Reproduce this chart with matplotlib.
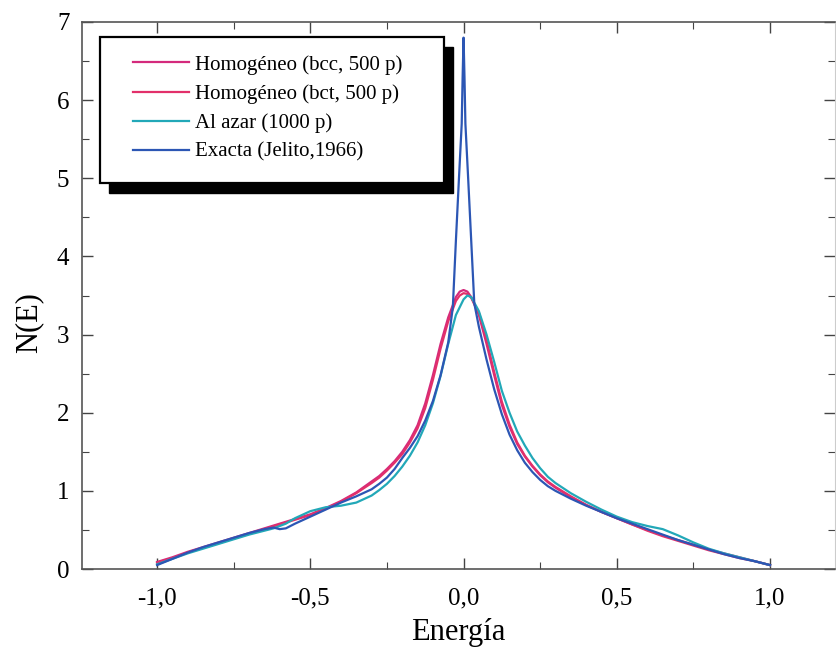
import matplotlib
matplotlib.use("Agg")
import matplotlib.pyplot as plt
from matplotlib.patches import Rectangle
from matplotlib.ticker import MultipleLocator, FuncFormatter

# Exact DOS (Jelito, 1966): broad curve plus log spike at E = 0
E_exact = [-1.0, -0.95, -0.9, -0.85, -0.8, -0.75, -0.7, -0.65, -0.62, -0.6, -0.58,
           -0.55, -0.5, -0.45, -0.4, -0.35, -0.3, -0.275, -0.25, -0.225, -0.2,
           -0.175, -0.15, -0.125, -0.1, -0.075, -0.05, -0.035, -0.025, -0.015,
           -0.006, -0.003, 0.0, 0.003, 0.006, 0.015, 0.025, 0.035, 0.05, 0.075,
           0.1, 0.125, 0.15, 0.175, 0.2, 0.225, 0.25, 0.275, 0.3, 0.35, 0.4,
           0.45, 0.5, 0.55, 0.6, 0.65, 0.7, 0.75, 0.8, 0.85, 0.9, 0.95, 1.0]
N_exact = [0.05, 0.13, 0.21, 0.28, 0.34, 0.40, 0.46, 0.51, 0.53, 0.51, 0.52,
           0.58, 0.67, 0.76, 0.85, 0.93, 1.02, 1.09, 1.17, 1.28, 1.42,
           1.55, 1.70, 1.90, 2.15, 2.48, 2.90, 3.35, 4.20, 5.00,
           5.70, 6.30, 6.80, 6.30, 5.70, 5.00, 4.20, 3.40, 3.10, 2.68,
           2.30, 1.98, 1.72, 1.52, 1.36, 1.24, 1.14, 1.06, 1.00, 0.90, 0.81,
           0.73, 0.65, 0.58, 0.51, 0.44, 0.37, 0.31, 0.25, 0.19, 0.14, 0.10, 0.05]

E_hom = [-1.0, -0.95, -0.9, -0.85, -0.8, -0.75, -0.7, -0.65, -0.6, -0.55, -0.5,
         -0.45, -0.4, -0.35, -0.3, -0.275, -0.25, -0.225, -0.2, -0.175, -0.15,
         -0.125, -0.1, -0.075, -0.05, -0.025, -0.0125, 0.0, 0.0125, 0.025, 0.05,
         0.075, 0.1, 0.125, 0.15, 0.175, 0.2, 0.225, 0.25, 0.275, 0.3, 0.35,
         0.4, 0.45, 0.5, 0.55, 0.6, 0.65, 0.7, 0.75, 0.8, 0.85, 0.9, 0.95, 1.0]
N_bcc = [0.09, 0.15, 0.22, 0.28, 0.34, 0.40, 0.46, 0.52, 0.58, 0.64, 0.70,
         0.78, 0.87, 0.98, 1.12, 1.19, 1.28, 1.38, 1.50, 1.65, 1.84,
         2.12, 2.48, 2.88, 3.22, 3.48, 3.55, 3.57, 3.55, 3.48, 3.25,
         2.88, 2.48, 2.10, 1.82, 1.60, 1.44, 1.31, 1.20, 1.11, 1.04, 0.92,
         0.82, 0.73, 0.65, 0.57, 0.50, 0.43, 0.37, 0.31, 0.25, 0.20, 0.15, 0.10, 0.05]
N_bct = [0.08, 0.14, 0.21, 0.27, 0.33, 0.39, 0.45, 0.51, 0.57, 0.63, 0.69,
         0.77, 0.86, 0.97, 1.10, 1.17, 1.26, 1.36, 1.47, 1.62, 1.80,
         2.06, 2.42, 2.82, 3.17, 3.43, 3.50, 3.53, 3.52, 3.47, 3.28,
         2.93, 2.52, 2.14, 1.85, 1.62, 1.45, 1.32, 1.21, 1.12, 1.05, 0.93,
         0.82, 0.73, 0.65, 0.57, 0.49, 0.42, 0.36, 0.30, 0.24, 0.19, 0.14, 0.10, 0.05]

E_azar = [-1.0, -0.95, -0.9, -0.85, -0.8, -0.75, -0.7, -0.65, -0.62, -0.58, -0.55,
          -0.5, -0.45, -0.4, -0.35, -0.3, -0.275, -0.25, -0.225, -0.2, -0.175,
          -0.15, -0.125, -0.1, -0.075, -0.05, -0.025, 0.0, 0.0125, 0.025, 0.05,
          0.075, 0.1, 0.125, 0.15, 0.175, 0.2, 0.225, 0.25, 0.275, 0.3, 0.35,
          0.4, 0.45, 0.5, 0.55, 0.6, 0.65, 0.7, 0.75, 0.8, 0.85, 0.9, 0.95, 1.0]
N_azar = [0.06, 0.13, 0.20, 0.26, 0.32, 0.38, 0.44, 0.49, 0.52, 0.58, 0.65,
          0.74, 0.79, 0.81, 0.85, 0.94, 1.01, 1.09, 1.19, 1.31, 1.45,
          1.62, 1.84, 2.12, 2.47, 2.88, 3.25, 3.45, 3.50, 3.48, 3.30,
          3.00, 2.65, 2.28, 2.00, 1.76, 1.58, 1.42, 1.29, 1.18, 1.10, 0.97,
          0.86, 0.76, 0.67, 0.60, 0.55, 0.51, 0.43, 0.34, 0.26, 0.20, 0.15, 0.10, 0.05]

labels = ["Homogéneo (bcc, 500 p)", "Homogéneo (bct, 500 p)",
          "Al azar (1000 p)", "Exacta (Jelito,1966)"]
colors = ["#d42a7c", "#e2306a", "#22a8b8", "#2c56b4"]

plt.rcParams["font.family"] = ["Liberation Serif", "DejaVu Serif"]

fig = plt.figure(figsize=(8.37, 6.51), dpi=100)
ax = fig.add_axes([82 / 837, 82 / 651, 753 / 837, 547 / 651])

lines = []
lines += ax.plot(E_hom, N_bcc, color=colors[0], lw=1.6, solid_joinstyle="round")
lines += ax.plot(E_hom, N_bct, color=colors[1], lw=1.6, solid_joinstyle="round")
lines += ax.plot(E_azar, N_azar, color=colors[2], lw=1.6, solid_joinstyle="round")
lines += ax.plot(E_exact, N_exact, color=colors[3], lw=1.6, solid_joinstyle="round")

ax.set_xlim(-1.245, 1.212)
ax.set_ylim(0, 7)
ax.xaxis.set_major_locator(MultipleLocator(0.5))
ax.xaxis.set_minor_locator(MultipleLocator(0.25))
ax.yaxis.set_major_locator(MultipleLocator(1))
ax.yaxis.set_minor_locator(MultipleLocator(0.5))
ax.xaxis.set_major_formatter(FuncFormatter(lambda v, p: f"{v:.1f}".replace(".", ",").replace("-0,0", "0,0")))
ax.yaxis.set_major_formatter(FuncFormatter(lambda v, p: f"{v:.0f}"))
ax.tick_params(which="both", direction="in", top=True, right=True, colors="#444444",
               labelcolor="black", labelsize=18)
ax.tick_params(axis="x", which="major", length=8, width=1, pad=13)
ax.tick_params(axis="y", which="major", length=8, width=1, pad=9)
ax.tick_params(which="minor", length=5, width=0.8)
for s in ["left", "bottom", "top"]:
    ax.spines[s].set_color("#555555")
    ax.spines[s].set_linewidth(1.2)
ax.spines["right"].set_color("#cccccc")
ax.spines["right"].set_linewidth(0.8)

ax.set_xlabel("Energía", fontsize=22)
ax.xaxis.set_label_coords(0.5, -0.09)
ax.set_ylabel("N(E)", fontsize=22)
ax.yaxis.set_label_coords(-0.052, 0.45)

# legend box with solid drop shadow
x0, x1 = 18 / 753, 362 / 753
y0, y1 = 386 / 547, 532 / 547
dx, dy = 9 / 753, 10 / 547
ax.add_patch(Rectangle((x0 + dx, y0 - dy), x1 - x0, y1 - y0, transform=ax.transAxes,
                       facecolor="black", edgecolor="black", zorder=4, clip_on=False))
ax.add_patch(Rectangle((x0, y0), x1 - x0, y1 - y0, transform=ax.transAxes,
                       facecolor="white", edgecolor="black", lw=1.6, zorder=4.5, clip_on=False))
leg = ax.legend(lines, labels, loc="upper left", bbox_to_anchor=(51 / 753, 514 / 547),
                frameon=False, fontsize=15, handlelength=2.7, handletextpad=0.3,
                labelspacing=0.45, borderpad=0, borderaxespad=0)
leg.set_zorder(5)

fig.savefig("out.png", dpi=100)
